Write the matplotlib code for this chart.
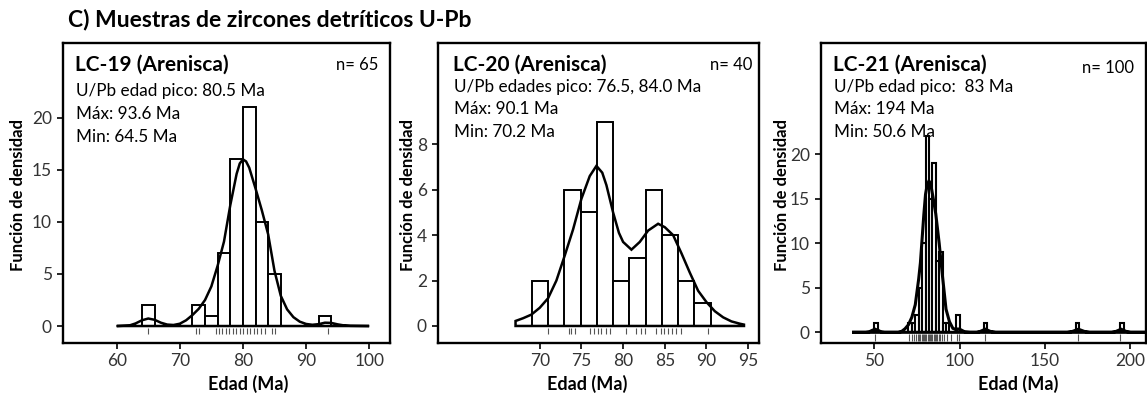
import numpy as np
import matplotlib
matplotlib.use('Agg')
import matplotlib.pyplot as plt

plt.rcParams['font.family'] = ['Lato', 'DejaVu Sans']

W, H = 1147, 397

TITLE = 'C) Muestras de zircones detríticos U-Pb'

# ---- LC-19 ----
p1_name = 'LC-19 (Arenisca)'
p1_n = 'n= 65'
p1_info = ['U/Pb edad pico: 80.5 Ma', 'Máx: 93.6 Ma', 'Min: 64.5 Ma']
p1_bin_left = [64, 72, 74, 76, 78, 80, 82, 84, 92]
p1_bin_width = 2.0
p1_counts = [2, 2, 1, 7, 16, 21, 10, 5, 1]
p1_curve_x = [60, 62, 63, 64, 65, 66, 67, 68, 69, 70, 71, 72, 73, 74, 75, 76, 77, 78,
              79, 79.5, 80, 80.5, 81, 82, 83, 84, 85, 86, 87, 88, 89, 90, 91, 92, 93,
              94, 95, 96, 97, 100]
p1_curve_y = [0, 0.05, 0.25, 0.55, 0.72, 0.6, 0.32, 0.14, 0.1, 0.22, 0.55, 1.05, 1.65,
              2.5, 3.8, 5.8, 8.1, 11.6, 14.6, 15.6, 16.0, 15.8, 15.2, 13.2, 11.1, 8.8,
              5.3, 2.9, 1.6, 0.85, 0.42, 0.2, 0.12, 0.18, 0.32, 0.3, 0.16, 0.06, 0.02, 0]
p1_rug = [65.0, 72.6, 73.1, 75.7, 76.2, 76.7, 77.3, 77.8, 78.4, 78.9, 79.5, 80.0, 80.6,
          81.1, 81.7, 82.2, 82.8, 83.5, 84.6, 85.1, 93.5]

# ---- LC-20 ----
p2_name = 'LC-20 (Arenisca)'
p2_n = 'n= 40'
p2_info = ['U/Pb edades pico: 76.5, 84.0 Ma', 'Máx: 90.1 Ma', 'Min: 70.2 Ma']
p2_edges = [67.1, 69.05, 71.0, 72.95, 74.9, 76.85, 78.8, 80.75, 82.7, 84.65, 86.6,
            88.55, 90.5]
p2_counts = [0, 2, 0, 6, 5, 9, 2, 3, 6, 4, 2, 1]
p2_curve_x = [67.1, 67.1, 68, 69, 70, 71, 72, 73, 74, 75, 76, 76.8, 77.5, 78, 78.8, 79.5,
              80, 81, 82, 83, 84.2, 85, 86, 87, 88, 89, 90, 91, 92, 93, 94, 94.5, 94.5]
p2_curve_y = [0, 0.22, 0.34, 0.5, 0.8, 1.22, 2.0, 3.1, 4.25, 5.6, 6.6, 7.05, 6.75, 6.2,
              5.0, 4.1, 3.7, 3.36, 3.7, 4.2, 4.5, 4.35, 4.0, 3.2, 2.35, 1.55, 1.05,
              0.65, 0.38, 0.2, 0.1, 0.06, 0]
p2_rug = [71.0, 73.5, 73.8, 74.2, 76.0, 76.5, 77.0, 77.4, 77.9, 78.4, 80.3, 81.5, 82.1,
          82.6, 84.0, 84.5, 84.9, 85.4, 85.9, 86.4, 87.0, 90.2]

# ---- LC-21 ----
p3_name = 'LC-21 (Arenisca)'
p3_n = 'n= 100'
p3_info = ['U/Pb edad pico:  83 Ma', 'Máx: 194 Ma', 'Min: 50.6 Ma']
p3_bin_left = [50, 70, 72, 74, 76, 78, 80, 82, 84, 86, 88, 90, 92, 98, 114, 168, 194]
p3_bin_width = 2.0
p3_counts = [1, 1, 1, 2, 5, 10, 22, 15, 19, 8, 9, 1, 1, 2, 1, 1, 1]
p3_curve_x = [37, 45, 47, 48.5, 50.5, 52.5, 54, 56, 64, 66, 68, 70, 72, 74, 76, 77, 78,
              79, 80, 81, 82, 83, 84, 85, 86, 88, 90, 92, 94, 96, 98, 99, 100.5, 103,
              106, 110, 112, 115, 118, 121, 163, 166, 169.5, 173, 176, 189, 191.5, 194.5,
              197.5, 200, 215]
p3_curve_y = [0, 0, 0.05, 0.2, 0.35, 0.2, 0.05, 0, 0, 0.1, 0.4, 0.85, 1.7, 3.1, 6.0, 7.8,
              10.5, 13.2, 15.5, 16.6, 17.0, 16.7, 15.6, 14.5, 13.3, 10.0, 6.2, 2.6, 1.2,
              0.45, 0.3, 0.38, 0.3, 0.05, 0, 0, 0.1, 0.35, 0.1, 0, 0, 0.1, 0.35, 0.1, 0,
              0, 0.1, 0.35, 0.1, 0, 0]
p3_rug = [50.6, 70.5, 72.0, 73.2, 74.5, 75.5, 76.3, 77.0, 77.7, 78.4, 79.1, 79.8, 80.5,
          81.2, 81.9, 82.6, 83.3, 84.0, 84.7, 85.4, 86.1, 86.9, 87.7, 88.6, 89.5, 91.0,
          92.5, 95.0, 98.7, 99.6, 115.0, 169.5, 194.0]


def fx(px):
    return px / W


def fy(py):
    return 1 - py / H


fig = plt.figure(figsize=(W / 100, H / 100), dpi=100)
fig.text(fx(68), fy(26), TITLE, fontsize=16.5, fontweight='bold', va='baseline')

panels = [
    dict(box=(63, 390), xlim=(51.5, 103.3), ylim=(-1.63, 27.17),
         xticks=[60, 70, 80, 90, 100], yticks=[0, 5, 10, 15, 20],
         tx=75, nx=378, ny=70.5, xl=248, yl=18, rug_y=(-0.15, -0.8),
         name=p1_name, n=p1_n, info=p1_info, info_y=[95.7, 119.3, 141.7],
         bars=(p1_bin_left, p1_counts, p1_bin_width), cx=p1_curve_x, cy=p1_curve_y,
         rug=p1_rug, blw=1.4, clw=1.8),
    dict(box=(438, 759), xlim=(57.8, 96.3), ylim=(-0.75, 12.46),
         xticks=[70, 75, 80, 85, 90, 95], yticks=[0, 2, 4, 6, 8],
         tx=453, nx=752, ny=70.5, xl=587, yl=408, rug_y=(-0.07, -0.37),
         name=p2_name, n=p2_n, info=p2_info, info_y=[91.7, 114, 136.7],
         bars=(p2_edges[:-1], p2_counts, np.diff(p2_edges)), cx=p2_curve_x,
         cy=p2_curve_y, rug=p2_rug, blw=1.4, clw=1.8),
    dict(box=(821, 1146), xlim=(18.8, 209.1), ylim=(-1.2, 32.5),
         xticks=[50, 100, 150, 200], yticks=[0, 5, 10, 15, 20],
         tx=833, nx=1134, ny=73, xl=1018, yl=782, rug_y=(-0.15, -0.95),
         name=p3_name, n=p3_n, info=p3_info, info_y=[91.7, 114, 136.7],
         bars=(p3_bin_left, p3_counts, p3_bin_width), cx=p3_curve_x, cy=p3_curve_y,
         rug=p3_rug, blw=1.5, clw=2.2),
]

top_px, bot_px = 43, 343
for p in panels:
    l, r = p['box']
    ax = fig.add_axes([fx(l), fy(bot_px), (r - l) / W, (bot_px - top_px) / H])
    left, heights, width = p['bars']
    ax.bar(left, heights, width=width, align='edge', facecolor='white',
           edgecolor='black', linewidth=p['blw'], zorder=2)
    ax.fill(p['cx'], p['cy'], facecolor='none', edgecolor='black', linewidth=p['clw'],
            zorder=3)
    ax.vlines(p['rug'], p['rug_y'][0], p['rug_y'][1], color='#555555', linewidth=0.8,
              zorder=3)
    ax.set_xlim(p['xlim'])
    ax.set_ylim(p['ylim'])
    ax.set_xticks(p['xticks'])
    ax.set_yticks(p['yticks'])
    for s in ax.spines.values():
        s.set_linewidth(1.7)
    ax.tick_params(axis='both', labelsize=12.5, colors='black', labelcolor='#333333',
                   width=1.2, length=4)
    ax.tick_params(axis='y', pad=4)
    ax.tick_params(axis='x', pad=3)
    fig.text(fx(p['xl']), fy(390), 'Edad (Ma)', fontsize=13, fontweight='bold',
             ha='center', va='baseline')
    fig.text(fx(p['yl']), fy(195), 'Función de densidad', fontsize=12,
             fontweight='bold', rotation=90, ha='center', va='center')
    fig.text(fx(p['tx']), fy(71), p['name'], fontsize=15, fontweight='bold',
             va='baseline')
    fig.text(fx(p['nx']), fy(p['ny']), p['n'], fontsize=12, ha='right', va='baseline')
    for txt, yy in zip(p['info'], p['info_y']):
        fig.text(fx(p['tx'] + 1), fy(yy), txt, fontsize=12.3, va='baseline')

fig.savefig('out.png', dpi=100)
